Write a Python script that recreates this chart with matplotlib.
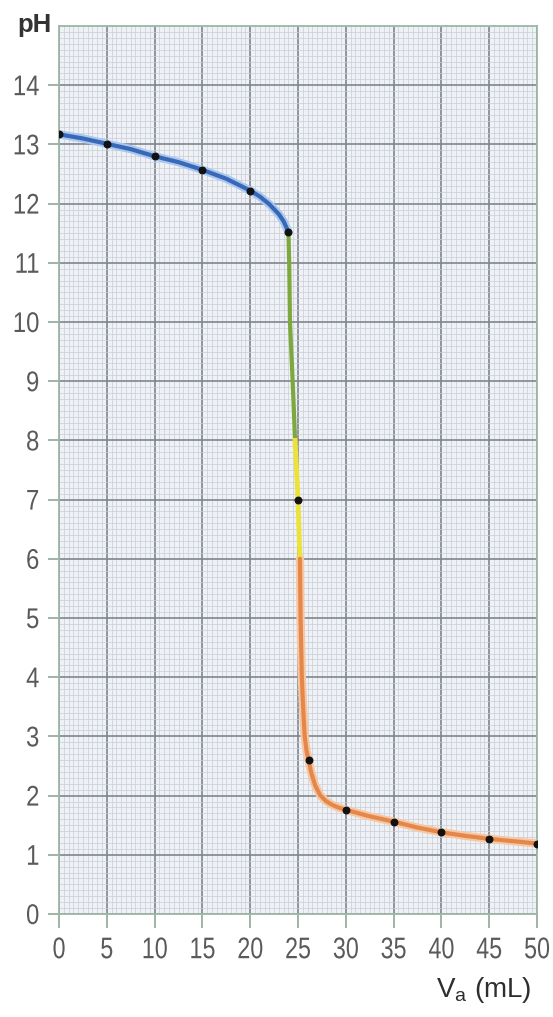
import matplotlib
matplotlib.use("Agg")
import matplotlib.pyplot as plt
from matplotlib.ticker import MultipleLocator
from matplotlib.patheffects import AbstractPathEffect
from matplotlib.transforms import Affine2D

plt.rcParams['font.family'] = ['Liberation Sans', 'DejaVu Sans']

# ---- data ----
va_blue = [0, 2.5, 5, 7.5, 10, 12.5, 15, 17.5, 20, 21, 22, 23, 23.5, 24]
ph_blue = [13.17, 13.10, 13.01, 12.92, 12.80, 12.70, 12.57, 12.42, 12.22, 12.12, 11.99, 11.82, 11.70, 11.52]

va_green = [24, 24.08, 24.16, 24.3, 24.44, 24.57, 24.69]
ph_green = [11.52, 11.0, 10.0, 9.5, 9.0, 8.5, 8.0]

va_yellow = [24.69, 24.85, 25.0, 25.1, 25.2]
ph_yellow = [8.0, 7.5, 7.0, 6.5, 6.0]

va_orange = [25.2, 25.27, 25.4, 25.55, 25.7, 25.9, 26.1, 26.4, 26.8, 27.3, 27.9, 28.5, 29.2,
             30, 32.5, 35, 37.5, 40, 42.5, 45, 47.5, 50]
ph_orange = [6.0, 5.0, 4.0, 3.45, 3.0, 2.75, 2.6, 2.38, 2.17, 2.01, 1.91, 1.85, 1.80,
             1.76, 1.65, 1.56, 1.46, 1.38, 1.32, 1.27, 1.23, 1.19]

va_pts = [0, 5, 10, 15, 20, 24, 25, 26.1, 30, 35, 40, 45, 50]
ph_pts = [13.17, 13.01, 12.80, 12.57, 12.22, 11.52, 7.0, 2.6, 1.76, 1.56, 1.38, 1.27, 1.19]

x_ticks = [0, 5, 10, 15, 20, 25, 30, 35, 40, 45, 50]
y_ticks = list(range(0, 15))


class Condense(AbstractPathEffect):
    """Horizontally squeeze text glyphs (the reference uses a narrow face)."""
    def __init__(self, sx, anchor='center'):
        super().__init__()
        self.sx = sx
        self.anchor = anchor

    def draw_path(self, renderer, gc, tpath, affine, rgbFace=None):
        ext = tpath.get_extents(affine)
        cx = ext.x1 if self.anchor == 'right' else (ext.x0 + ext.x1) / 2
        new = affine + Affine2D().translate(-cx, 0).scale(self.sx, 1).translate(cx, 0)
        renderer.draw_path(gc, tpath, new, rgbFace)


fig = plt.figure(figsize=(5.53, 10.17), dpi=100)
ax = fig.add_axes([59/553, 1 - 914/1017, 478/553, 888/1017])
ax.set_facecolor('#eef1f5')
ax.set_xlim(0, 50)
ax.set_ylim(0, 15)

ax.xaxis.set_minor_locator(MultipleLocator(0.5))
ax.yaxis.set_minor_locator(MultipleLocator(0.1))
ax.set_xticks(x_ticks)
ax.set_yticks(y_ticks)
ax.set_xticklabels([str(v) for v in x_ticks])
ax.set_yticklabels([str(v) for v in y_ticks])

ax.grid(which='minor', color='#c9cdd5', linewidth=0.5)
ax.grid(which='major', color='#80868e', linewidth=1.2)
ax.set_axisbelow(True)

for s in ax.spines.values():
    s.set_color('#9cb8a4')
    s.set_linewidth(1.3)

ax.tick_params(which='minor', length=0)
ax.tick_params(axis='y', which='major', length=8, width=1.2, color='#8fa898',
               labelsize=20.5, labelcolor='#5a5a5a', pad=6)
ax.tick_params(axis='x', which='major', length=10, width=1.2, color='#8fa898',
               labelsize=21.5, labelcolor='#5a5a5a', pad=6)

for lab in ax.get_xticklabels():
    lab.set_path_effects([Condense(0.78, 'center')])
for lab in ax.get_yticklabels():
    lab.set_path_effects([Condense(0.84, 'right')])

# curve with light halo
ax.plot(va_blue, ph_blue, color='#a9c8ef', linewidth=6, solid_capstyle='round', zorder=3)
ax.plot(va_blue, ph_blue, color='#3a68b8', linewidth=3, solid_capstyle='round', zorder=4)
ax.plot(va_green, ph_green, color='#7da83c', linewidth=3, zorder=4)
ax.plot(va_yellow, ph_yellow, color='#ece23a', linewidth=3.5, zorder=4)
ax.plot(va_orange, ph_orange, color='#f6c7a3', linewidth=6, solid_capstyle='round',
        solid_joinstyle='round', zorder=3)
ax.plot(va_orange, ph_orange, color='#e5874a', linewidth=3, solid_capstyle='round',
        solid_joinstyle='round', zorder=4)
ax.scatter(va_pts, ph_pts, s=22, color='#111111', zorder=5)

fig.text(17/553, 1 - 25/1017, 'pH', fontsize=18.5, color='#333333', fontweight='bold',
         ha='left', va='center')
fig.text(532/553, 1 - 990/1017, r'V$_\mathregular{a}$ (mL)', fontsize=20, color='#2e2e2e',
         ha='right', va='center')

fig.savefig('out.png', dpi=100, facecolor='white')
